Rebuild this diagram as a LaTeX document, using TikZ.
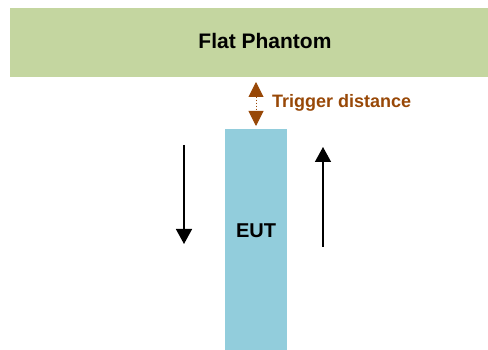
\documentclass[tikz,border=0pt]{standalone}
\usepackage{fontspec}
\setmainfont{Liberation Sans}
\usetikzlibrary{arrows.meta}
\definecolor{phantomgreen}{HTML}{C4D6A0}
\definecolor{eutblue}{HTML}{92CDDC}
\definecolor{trigbrown}{HTML}{984807}
\begin{document}
\begin{tikzpicture}[x=1pt, y=-1pt]

\tikzstyle{block}=[rectangle, inner sep=0pt, outer sep=0pt]
\tikzstyle{move}=[line width=1.5pt, -{Triangle[width=16pt,length=15pt]}]
%\tikzstyle{move}=[line width=1pt, ->]

\useasboundingbox (0,0) rectangle (488,350);

\node[block, fill=phantomgreen, minimum width=478pt, minimum height=69pt] (phantom) at (249,42.5) {};
\node[font=\fontsize{21}{25}\selectfont\bfseries] (phantomtxt) at (265,41) {Flat Phantom};

\node[block, fill=eutblue, minimum width=62pt, minimum height=221pt] (eut) at (256,239.5) {};
\node[font=\fontsize{20}{24}\selectfont\bfseries] (euttxt) at (256,231) {EUT};

\coordinate (t1) at (256,82);
\coordinate (t2) at (256,126);
\draw[trigbrown, line width=1pt, dotted, {Triangle[width=15pt,length=15pt]}-{Triangle[width=15pt,length=15pt]}] (t1) -- (t2);
\node[anchor=base west, text=trigbrown, font=\fontsize{18}{22}\selectfont\bfseries, inner sep=0pt] (trig) at (272,108) {Trigger distance};

\coordinate (l1) at (184,145);
\coordinate (l2) at (184,244);
\draw[move] (l1) -- (l2);

\coordinate (r1) at (323,247);
\coordinate (r2) at (323,147);
\draw[move] (r1) -- (r2);

\end{tikzpicture}
\end{document}
